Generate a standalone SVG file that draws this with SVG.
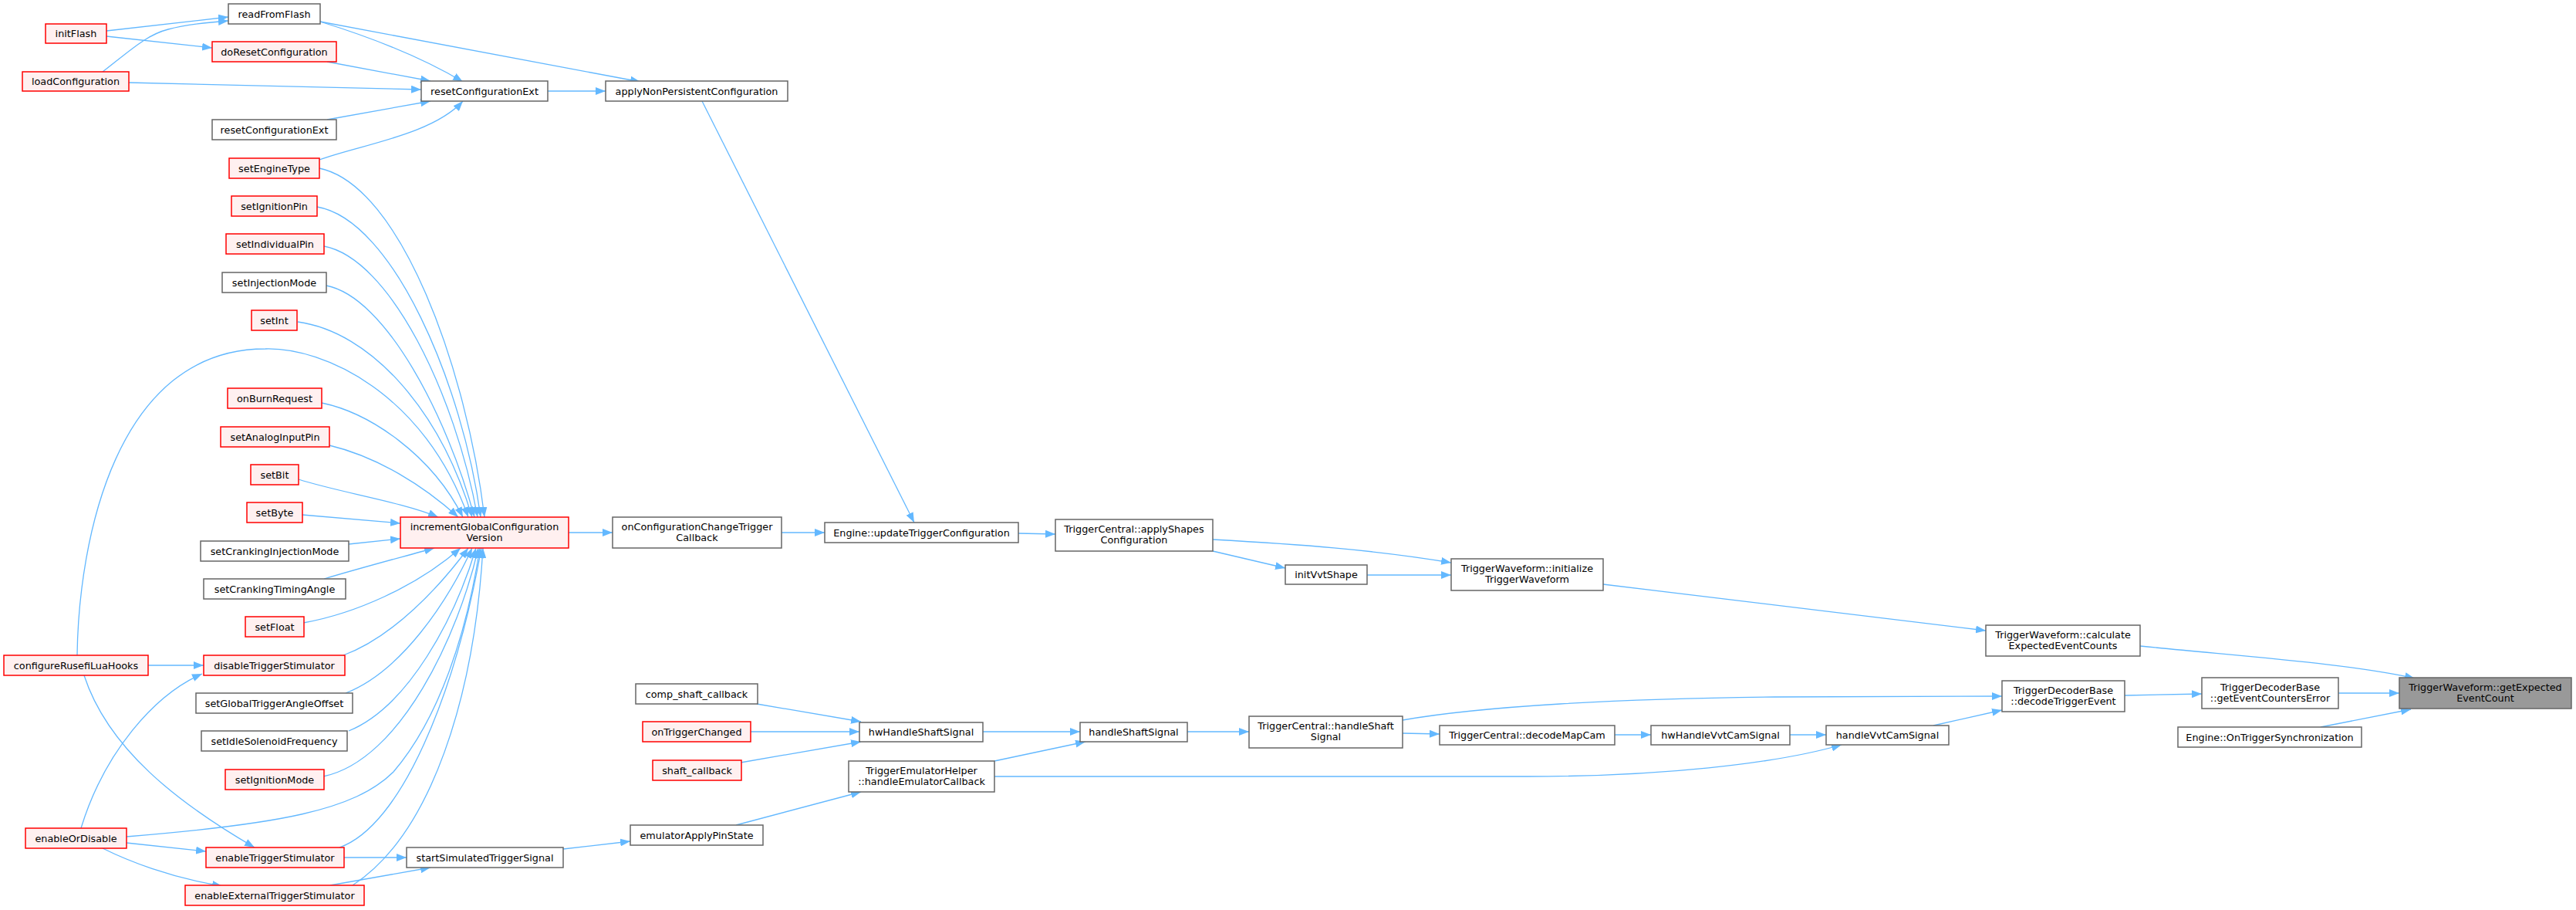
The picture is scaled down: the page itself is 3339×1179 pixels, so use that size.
<svg xmlns="http://www.w3.org/2000/svg" width="3339" height="1179" viewBox="0 0 3339 1179">
<style>
.n rect{fill:#ffffff;stroke:#666666;stroke-width:1.5}
.r rect{fill:#fff0f0;stroke:#ff0000;stroke-width:1.5}
.root rect{fill:#999999;stroke:#666666;stroke-width:1.5}
text{font-family:"DejaVu Sans","Liberation Sans",sans-serif;font-size:12.8px;fill:#000000;text-anchor:middle}
#edges path{fill:none;stroke:#63b8ff;stroke-width:1.3;marker-end:url(#ah)}
</style>
<defs>
<marker id="ah" viewBox="0 0 13 10" refX="13" refY="5" markerWidth="13" markerHeight="10" markerUnits="userSpaceOnUse" orient="auto">
<path d="M0,0 L13,5 L0,10 z" fill="#63b8ff"/>
</marker>
</defs>
<rect width="3339" height="1179" fill="#ffffff"/>
<g id="edges">
<path d="M138,40 L296,22"/>
<path d="M138,47 L275,62"/>
<path d="M133,93 C168,66 190,45 218,38 C240,32 268,29 296,27"/>
<path d="M167,107 L546,116"/>
<path d="M424,80 L558,105"/>
<path d="M415,28 C470,45 540,70 600,106"/>
<path d="M415,28 L830,106"/>
<path d="M424,155 L558,131"/>
<path d="M414,207 C465,188 560,175 600,131"/>
<path d="M710,118 L785,118"/>
<path d="M910,131 L1185,677"/>
<path d="M414,218 C520,240 605,480 628,670"/>
<path d="M411,268 C510,285 600,500 623,670"/>
<path d="M420,319 C505,335 590,510 619,670"/>
<path d="M423,370 C500,385 580,540 615,670"/>
<path d="M386,417 C480,430 570,530 612,670"/>
<path d="M100,849 C102,700 150,452 344,452 C420,450 550,510 607,670"/>
<path d="M417,522 C480,535 560,590 600,670"/>
<path d="M427,577 C490,592 550,630 594,670"/>
<path d="M387,621 C440,638 520,650 568,670"/>
<path d="M392,667 L519,678"/>
<path d="M452,705 L519,698"/>
<path d="M420,750 C470,735 520,722 563,710"/>
<path d="M393,807 C460,795 540,760 597,710"/>
<path d="M445,849 C510,825 570,760 607,710"/>
<path d="M448,898 C520,870 580,780 612,710"/>
<path d="M452,947 C530,915 590,800 617,710"/>
<path d="M419,1006 C520,985 595,820 620,710"/>
<path d="M164,1084 C360,1068 460,1050 510,1000 C570,930 605,820 622,710"/>
<path d="M440,1098 C520,1070 590,900 624,710"/>
<path d="M457,1147 C560,1080 615,900 626,710"/>
<path d="M737,690 L794,690"/>
<path d="M1013,690 L1069,690"/>
<path d="M1320,691 L1368,692"/>
<path d="M1572,714 L1666,736"/>
<path d="M1572,699 C1680,705 1780,712 1881,729"/>
<path d="M1772,745 L1881,745"/>
<path d="M2078,757 L2574,817"/>
<path d="M2774,837 C2900,850 3050,860 3130,879"/>
<path d="M1818,933 C1920,915 2100,905 2300,903 L2595,902"/>
<path d="M2754,901 L2854,899"/>
<path d="M3031,898 L3110,898"/>
<path d="M3008,942 L3125,919"/>
<path d="M192,862 L264,862"/>
<path d="M109,875 C140,970 230,1040 330,1098"/>
<path d="M105,1073 C135,975 200,900 262,873"/>
<path d="M164,1092 L267,1103"/>
<path d="M133,1099 C165,1115 220,1137 288,1148"/>
<path d="M446,1111 L527,1111"/>
<path d="M428,1147 L558,1124"/>
<path d="M730,1100 L817,1090"/>
<path d="M954,1069 L1116,1026"/>
<path d="M981,912 L1116,935"/>
<path d="M973,948 L1114,948"/>
<path d="M960,988 L1116,961"/>
<path d="M1274,948 L1400,948"/>
<path d="M1289,986 L1407,961"/>
<path d="M1539,948 L1619,948"/>
<path d="M1818,950 L1866,951"/>
<path d="M2093,952 L2140,952"/>
<path d="M2320,952 L2367,952"/>
<path d="M2506,940 L2595,920"/>
<path d="M1289,1006 L1980,1006 C2150,1006 2300,990 2387,965"/>
</g>
<g id="n_initFlash" class="r"><rect x="59" y="31" width="79" height="25"/><text x="98.5" y="48">initFlash</text></g>
<g id="n_loadConfiguration" class="r"><rect x="29" y="93" width="138" height="25"/><text x="98" y="110">loadConfiguration</text></g>
<g id="n_configureRusefiLuaHooks" class="r"><rect x="5" y="849" width="187" height="26"/><text x="98.5" y="866.5">configureRusefiLuaHooks</text></g>
<g id="n_enableOrDisable" class="r"><rect x="33" y="1073" width="131" height="26"/><text x="98.5" y="1090.5">enableOrDisable</text></g>
<g id="n_readFromFlash" class="n"><rect x="296" y="5" width="119" height="26"/><text x="355.5" y="22.5">readFromFlash</text></g>
<g id="n_doResetConfiguration" class="r"><rect x="275" y="54" width="161" height="26"/><text x="355.5" y="71.5">doResetConfiguration</text></g>
<g id="n_resetConfigurationExt2" class="n"><rect x="275" y="155" width="161" height="26"/><text x="355.5" y="172.5">resetConfigurationExt</text></g>
<g id="n_setEngineType" class="r"><rect x="297" y="205" width="117" height="26"/><text x="355.5" y="222.5">setEngineType</text></g>
<g id="n_setIgnitionPin" class="r"><rect x="300" y="254" width="111" height="26"/><text x="355.5" y="271.5">setIgnitionPin</text></g>
<g id="n_setIndividualPin" class="r"><rect x="293" y="303" width="127" height="26"/><text x="356.5" y="320.5">setIndividualPin</text></g>
<g id="n_setInjectionMode" class="n"><rect x="288" y="353" width="135" height="26"/><text x="355.5" y="370.5">setInjectionMode</text></g>
<g id="n_setInt" class="r"><rect x="326" y="402" width="59" height="26"/><text x="355.5" y="419.5">setInt</text></g>
<g id="n_onBurnRequest" class="r"><rect x="295" y="503" width="122" height="26"/><text x="356" y="520.5">onBurnRequest</text></g>
<g id="n_setAnalogInputPin" class="r"><rect x="286" y="553" width="141" height="26"/><text x="356.5" y="570.5">setAnalogInputPin</text></g>
<g id="n_setBit" class="r"><rect x="325" y="602" width="62" height="26"/><text x="356" y="619.5">setBit</text></g>
<g id="n_setByte" class="r"><rect x="320" y="651" width="72" height="26"/><text x="356" y="668.5">setByte</text></g>
<g id="n_setCrankingInjectionMode" class="n"><rect x="260" y="701" width="192" height="26"/><text x="356" y="718.5">setCrankingInjectionMode</text></g>
<g id="n_setCrankingTimingAngle" class="n"><rect x="264" y="750" width="184" height="26"/><text x="356" y="767.5">setCrankingTimingAngle</text></g>
<g id="n_setFloat" class="r"><rect x="318" y="799" width="76" height="26"/><text x="356" y="816.5">setFloat</text></g>
<g id="n_disableTriggerStimulator" class="r"><rect x="264" y="849" width="183" height="26"/><text x="355.5" y="866.5">disableTriggerStimulator</text></g>
<g id="n_setGlobalTriggerAngleOffset" class="n"><rect x="254" y="898" width="203" height="26"/><text x="355.5" y="915.5">setGlobalTriggerAngleOffset</text></g>
<g id="n_setIdleSolenoidFrequency" class="n"><rect x="261" y="947" width="189" height="26"/><text x="355.5" y="964.5">setIdleSolenoidFrequency</text></g>
<g id="n_setIgnitionMode" class="r"><rect x="292" y="997" width="128" height="26"/><text x="356" y="1014.5">setIgnitionMode</text></g>
<g id="n_enableTriggerStimulator" class="r"><rect x="267" y="1098" width="179" height="26"/><text x="356.5" y="1115.5">enableTriggerStimulator</text></g>
<g id="n_enableExternalTriggerStimulator" class="r"><rect x="240" y="1147" width="232" height="26"/><text x="356" y="1164.5">enableExternalTriggerStimulator</text></g>
<g id="n_resetConfigurationExt" class="n"><rect x="546" y="105" width="164" height="26"/><text x="628" y="122.5">resetConfigurationExt</text></g>
<g id="n_incrementGlobalConfigurationVersion" class="r"><rect x="519" y="670" width="218" height="40"/><text x="628" y="686.5">incrementGlobalConfiguration</text><text x="628" y="700.5">Version</text></g>
<g id="n_startSimulatedTriggerSignal" class="n"><rect x="527" y="1098" width="203" height="26"/><text x="628.5" y="1115.5">startSimulatedTriggerSignal</text></g>
<g id="n_applyNonPersistentConfiguration" class="n"><rect x="785" y="105" width="236" height="26"/><text x="903" y="122.5">applyNonPersistentConfiguration</text></g>
<g id="n_onConfigurationChangeTriggerCallback" class="n"><rect x="794" y="670" width="219" height="40"/><text x="903.5" y="686.5">onConfigurationChangeTrigger</text><text x="903.5" y="700.5">Callback</text></g>
<g id="n_comp_shaft_callback" class="n"><rect x="824" y="886" width="158" height="26"/><text x="903" y="903.5">comp_shaft_callback</text></g>
<g id="n_onTriggerChanged" class="r"><rect x="833" y="935" width="140" height="26"/><text x="903" y="952.5">onTriggerChanged</text></g>
<g id="n_shaft_callback" class="r"><rect x="846" y="985" width="115" height="26"/><text x="903.5" y="1002.5">shaft_callback</text></g>
<g id="n_emulatorApplyPinState" class="n"><rect x="817" y="1069" width="172" height="26"/><text x="903" y="1086.5">emulatorApplyPinState</text></g>
<g id="n_Engine_updateTriggerConfiguration" class="n"><rect x="1069" y="677" width="251" height="26"/><text x="1194.5" y="694.5">Engine::updateTriggerConfiguration</text></g>
<g id="n_hwHandleShaftSignal" class="n"><rect x="1114" y="936" width="160" height="25"/><text x="1194" y="953">hwHandleShaftSignal</text></g>
<g id="n_TriggerEmulatorHelper_handleEmulatorCallback" class="n"><rect x="1100" y="986" width="189" height="40"/><text x="1194.5" y="1002.5">TriggerEmulatorHelper</text><text x="1194.5" y="1016.5">::handleEmulatorCallback</text></g>
<g id="n_TriggerCentral_applyShapesConfiguration" class="n"><rect x="1368" y="673" width="204" height="41"/><text x="1470" y="689.5">TriggerCentral::applyShapes</text><text x="1470" y="703.5">Configuration</text></g>
<g id="n_handleShaftSignal" class="n"><rect x="1400" y="936" width="139" height="25"/><text x="1469.5" y="953">handleShaftSignal</text></g>
<g id="n_initVvtShape" class="n"><rect x="1666" y="732" width="106" height="25"/><text x="1719" y="749">initVvtShape</text></g>
<g id="n_TriggerCentral_handleShaftSignal" class="n"><rect x="1619" y="928" width="199" height="41"/><text x="1718.5" y="944.5">TriggerCentral::handleShaft</text><text x="1718.5" y="958.5">Signal</text></g>
<g id="n_TriggerWaveform_initializeTriggerWaveform" class="n"><rect x="1881" y="724" width="197" height="41"/><text x="1979.5" y="740.5">TriggerWaveform::initialize</text><text x="1979.5" y="754.5">TriggerWaveform</text></g>
<g id="n_TriggerCentral_decodeMapCam" class="n"><rect x="1866" y="940" width="227" height="25"/><text x="1979.5" y="957">TriggerCentral::decodeMapCam</text></g>
<g id="n_hwHandleVvtCamSignal" class="n"><rect x="2140" y="940" width="180" height="25"/><text x="2230" y="957">hwHandleVvtCamSignal</text></g>
<g id="n_handleVvtCamSignal" class="n"><rect x="2367" y="940" width="159" height="25"/><text x="2446.5" y="957">handleVvtCamSignal</text></g>
<g id="n_TriggerWaveform_calculateExpectedEventCounts" class="n"><rect x="2574" y="810" width="200" height="40"/><text x="2674" y="826.5">TriggerWaveform::calculate</text><text x="2674" y="840.5">ExpectedEventCounts</text></g>
<g id="n_TriggerDecoderBase_decodeTriggerEvent" class="n"><rect x="2595" y="882" width="159" height="40"/><text x="2674.5" y="898.5">TriggerDecoderBase</text><text x="2674.5" y="912.5">::decodeTriggerEvent</text></g>
<g id="n_TriggerDecoderBase_getEventCountersError" class="n"><rect x="2854" y="878" width="177" height="40"/><text x="2942.5" y="894.5">TriggerDecoderBase</text><text x="2942.5" y="908.5">::getEventCountersError</text></g>
<g id="n_Engine_OnTriggerSynchronization" class="n"><rect x="2823" y="942" width="238" height="26"/><text x="2942" y="959.5">Engine::OnTriggerSynchronization</text></g>
<g id="n_TriggerWaveform_getExpectedEventCount" class="root"><rect x="3110" y="878" width="223" height="40"/><text x="3221.5" y="894.5">TriggerWaveform::getExpected</text><text x="3221.5" y="908.5">EventCount</text></g>
</svg>
